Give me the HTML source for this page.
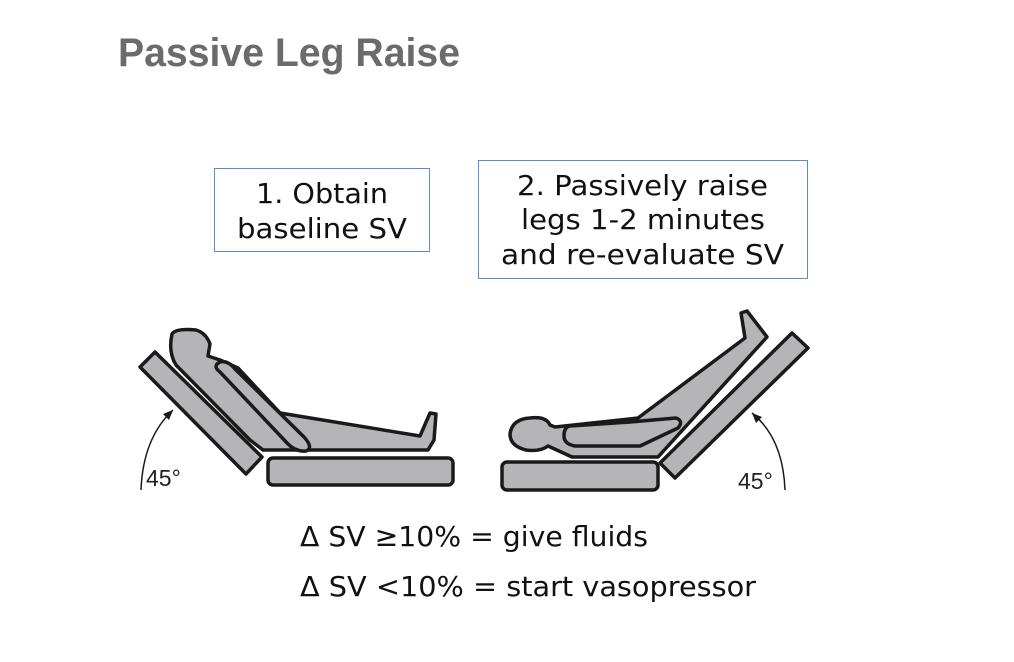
<!DOCTYPE html>
<html><head><meta charset="utf-8"><style>
html,body{margin:0;padding:0;background:#fff;width:1014px;height:662px;overflow:hidden}
svg{display:block}
.ls{font-family:"Liberation Sans",sans-serif}
.dv{font-family:"DejaVu Sans",sans-serif}
</style></head><body>
<svg width="1014" height="662" viewBox="0 0 1014 662" xmlns="http://www.w3.org/2000/svg">
<text class="ls" x="118" y="66" font-size="40" font-weight="bold" fill="#6b6b6e" textLength="342" lengthAdjust="spacingAndGlyphs">Passive Leg Raise</text>

<rect x="214.5" y="168.5" width="215" height="83" fill="#fff" stroke="#5b8bd0" stroke-width="1"/>
<text class="dv" x="256" y="203" font-size="28" fill="#111" textLength="132" lengthAdjust="spacingAndGlyphs">1. Obtain</text>
<text class="dv" x="237" y="238" font-size="28" fill="#111" textLength="170" lengthAdjust="spacingAndGlyphs">baseline SV</text>

<rect x="478.5" y="160.5" width="329" height="118" fill="#fff" stroke="#5b8bd0" stroke-width="1"/>
<text class="dv" x="517" y="195" font-size="28" fill="#111" textLength="251" lengthAdjust="spacingAndGlyphs">2. Passively raise</text>
<text class="dv" x="521" y="229" font-size="28" fill="#111" textLength="244" lengthAdjust="spacingAndGlyphs">legs 1-2 minutes</text>
<text class="dv" x="501" y="264" font-size="28" fill="#111" textLength="283" lengthAdjust="spacingAndGlyphs">and re-evaluate SV</text>

<g fill="#b5b5b8" stroke="#1a1a1a" stroke-width="3.5" stroke-linejoin="round">
<polygon points="140,367 155,352 262,457 246,474"/>
<rect x="268" y="458" width="185" height="27" rx="5"/>
<path d="M172,334 Q176,328 196,330 Q206,333 210,344 L208,356 L220,360 L238,368 L280,413 L420,436 L430,413 L436,414 L434,440 L428,450 L263,450 L250,440 L176,365 Q168,352 172,334 Z"/>
<path d="M220,372 Q212,366 220,362 Q228,360 236,370 L304,437 Q314,448 306,451 Q296,452 288,444 Z"/>
<polygon points="660,463 675,478 808,348 792,333"/>
<rect x="502" y="462" width="156" height="28" rx="5"/>
<path d="M530,418 Q546,416 550,425 L555,427 L638,418 L745,338 L741,313 L747,311 L767,337 L658,457 L572,457 L548,446 Q540,452 526,450 Q510,446 510,434 Q512,419 530,418 Z"/>
<path d="M570,426 L630,422 L676,418 Q684,421 678,428 L640,446 L575,446 Q564,444 564,436 Q564,427 570,426 Z"/>
</g>

<g fill="none" stroke="#1a1a1a" stroke-width="1.5">
<path d="M141,490 Q143,438 173,410"/>
<path d="M785,490 Q783,438 752,413"/>
</g>
<polygon points="173,410 163,414 169,420" fill="#1a1a1a"/>
<polygon points="752,413 762,417 756,423" fill="#1a1a1a"/>
<text class="ls" x="146" y="486" font-size="23" fill="#222">45°</text>
<text class="ls" x="738" y="489" font-size="23" fill="#222">45°</text>

<text class="dv" x="300" y="546" font-size="28" fill="#111" textLength="348" lengthAdjust="spacingAndGlyphs">Δ SV ≥10% = give fluids</text>
<text class="dv" x="300" y="596" font-size="28" fill="#111" textLength="456" lengthAdjust="spacingAndGlyphs">Δ SV &lt;10% = start vasopressor</text>
</svg>
</body></html>
